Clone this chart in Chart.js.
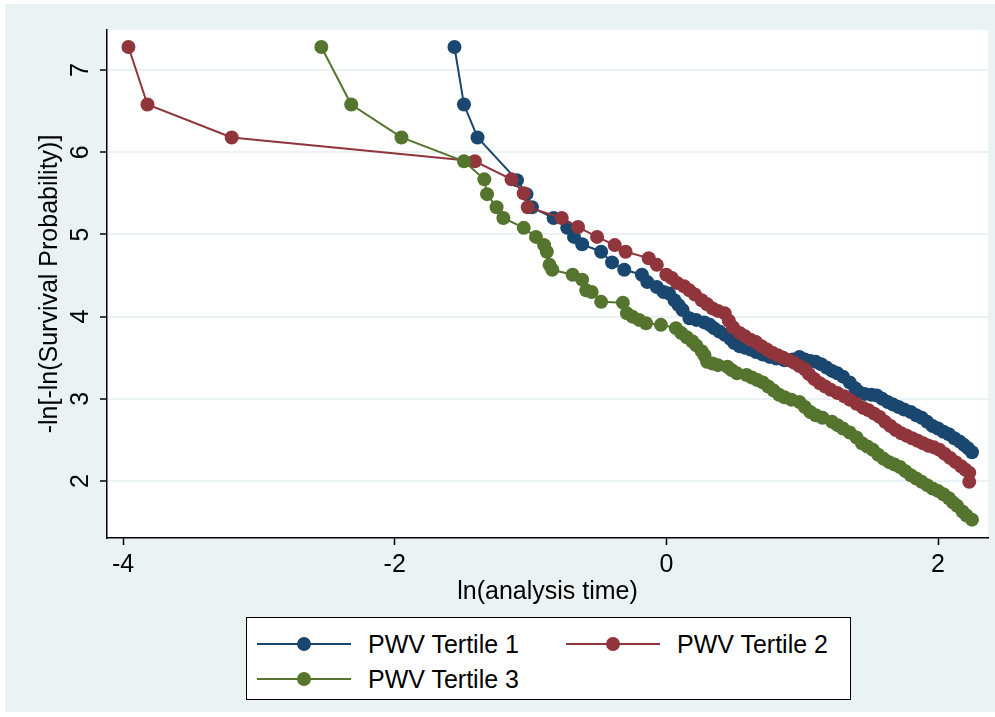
<!DOCTYPE html>
<html>
<head>
<meta charset="utf-8">
<title>Log-log survival by PWV tertile</title>
<script src="https://cdn.jsdelivr.net/npm/chart.js@4.4.1/dist/chart.umd.min.js"></script>
<style>
  html, body { margin: 0; padding: 0; background: #fff; }
  #wrap { position: relative; width: 995px; height: 717px; }
  #myChart { position: absolute; left: 0; top: 0; }
  #legend {
    position: absolute; left: 246px; top: 617px; width: 603px; height: 81px;
    border: 1px solid #000; background: #fff;
    font-family: "Liberation Sans", Arial, sans-serif; font-size: 25px; color: #000;
  }
  .item { position: absolute; height: 30px; width: 280px; }
  .sym { position: absolute; left: 0; top: 14px; width: 94px; height: 2px; }
  .dot { position: absolute; left: 40px; top: 8px; width: 14px; height: 14px; border-radius: 50%; }
  .lbl { position: absolute; left: 111px; top: 0; line-height: 30px; white-space: nowrap; }
</style>
</head>
<body>
<div id="wrap">
  <canvas id="myChart" width="995" height="717"></canvas>
  <div id="legend"></div>
</div>
<script>
var FONT = '"Liberation Sans", Arial, sans-serif';

var xTicks = [-4, -2, 0, 2];
var yTicks = [2, 3, 4, 5, 6, 7];
var seriesNames = ['PWV Tertile 1', 'PWV Tertile 2', 'PWV Tertile 3'];
var seriesColors = ['#1A476F', '#90353B', '#55752F'];

// [ln(analysis time), -ln(-ln(S))]
var tertile1 = [
  [-1.56,7.28],[-1.49,6.58],[-1.39,6.18],[-1.10,5.66],[-1.03,5.49],[-0.99,5.33],[-0.83,5.20],
  [-0.73,5.08],[-0.68,4.97],[-0.62,4.88],[-0.48,4.79],[-0.40,4.66],[-0.31,4.57],[-0.18,4.51],
  [-0.14,4.42],[-0.07,4.36],[-0.02,4.30],[0.02,4.28],[0.06,4.20],[0.09,4.14],[0.12,4.08],
  [0.17,3.98],[0.22,3.96],[0.28,3.93],[0.32,3.90],[0.35,3.86],[0.39,3.82],[0.43,3.78],
  [0.47,3.73],[0.50,3.68],[0.54,3.64],[0.58,3.62],[0.62,3.60],[0.66,3.57],[0.71,3.54],
  [0.76,3.51],[0.81,3.49],[0.87,3.47],[0.93,3.48],[0.98,3.51],[1.02,3.48],[1.06,3.46],
  [1.10,3.45],[1.14,3.42],[1.18,3.38],[1.22,3.34],[1.26,3.31],[1.30,3.27],[1.35,3.20],
  [1.39,3.13],[1.42,3.08],[1.46,3.06],[1.51,3.05],[1.55,3.04],[1.59,3.00],[1.63,2.96],
  [1.67,2.93],[1.71,2.90],[1.75,2.87],[1.80,2.84],[1.84,2.80],[1.88,2.77],[1.92,2.72],
  [1.96,2.67],[2.00,2.64],[2.04,2.60],[2.08,2.57],[2.12,2.52],[2.16,2.48],[2.19,2.44],
  [2.22,2.40],[2.25,2.35]
];
var tertile2 = [
  [-3.96,7.28],[-3.82,6.58],[-3.20,6.18],[-1.41,5.89],[-1.14,5.67],[-1.05,5.50],[-1.02,5.33],
  [-0.77,5.20],[-0.65,5.09],[-0.51,4.97],[-0.38,4.87],[-0.30,4.79],[-0.13,4.71],[-0.07,4.63],
  [0.00,4.51],[0.04,4.47],[0.08,4.41],[0.13,4.37],[0.17,4.32],[0.21,4.27],[0.26,4.20],
  [0.30,4.15],[0.34,4.10],[0.38,4.07],[0.43,4.04],[0.46,3.95],[0.49,3.87],[0.54,3.80],
  [0.58,3.76],[0.62,3.72],[0.66,3.69],[0.70,3.64],[0.74,3.60],[0.78,3.56],[0.82,3.53],
  [0.86,3.50],[0.90,3.47],[0.94,3.44],[0.98,3.40],[1.02,3.36],[1.05,3.30],[1.09,3.24],
  [1.13,3.19],[1.17,3.15],[1.21,3.11],[1.26,3.07],[1.31,3.03],[1.35,2.99],[1.40,2.94],
  [1.45,2.89],[1.49,2.86],[1.53,2.82],[1.57,2.78],[1.61,2.72],[1.65,2.67],[1.69,2.62],
  [1.73,2.58],[1.77,2.55],[1.81,2.52],[1.85,2.49],[1.89,2.46],[1.93,2.43],[1.97,2.41],
  [2.01,2.38],[2.05,2.33],[2.09,2.28],[2.13,2.23],[2.17,2.18],[2.20,2.14],[2.23,2.10],
  [2.23,1.99]
];
var tertile3 = [
  [-2.54,7.28],[-2.32,6.58],[-1.95,6.18],[-1.49,5.89],[-1.34,5.67],[-1.32,5.49],[-1.25,5.33],
  [-1.20,5.20],[-1.05,5.08],[-0.96,4.97],[-0.90,4.87],[-0.88,4.79],[-0.86,4.63],[-0.84,4.57],
  [-0.69,4.51],[-0.62,4.45],[-0.59,4.32],[-0.55,4.30],[-0.48,4.18],[-0.32,4.17],[-0.29,4.04],
  [-0.25,4.00],[-0.20,3.96],[-0.15,3.92],[-0.04,3.90],[0.07,3.86],[0.11,3.80],[0.15,3.75],
  [0.19,3.70],[0.22,3.65],[0.26,3.58],[0.28,3.53],[0.30,3.45],[0.34,3.43],[0.38,3.41],
  [0.45,3.39],[0.48,3.35],[0.52,3.31],[0.59,3.29],[0.63,3.26],[0.67,3.23],[0.71,3.20],
  [0.75,3.15],[0.79,3.10],[0.83,3.05],[0.87,3.02],[0.92,2.99],[0.98,2.96],[1.02,2.90],
  [1.06,2.84],[1.10,2.80],[1.15,2.77],[1.22,2.72],[1.26,2.68],[1.30,2.64],[1.35,2.59],
  [1.40,2.53],[1.44,2.46],[1.48,2.42],[1.52,2.38],[1.56,2.32],[1.60,2.27],[1.64,2.23],
  [1.68,2.20],[1.72,2.17],[1.76,2.12],[1.80,2.07],[1.84,2.03],[1.88,1.99],[1.92,1.95],
  [1.96,1.91],[2.00,1.88],[2.04,1.84],[2.08,1.79],[2.11,1.74],[2.14,1.70],[2.18,1.63],
  [2.21,1.58],[2.25,1.53]
];

function toPoints(arr) {
  return arr.map(function (p) { return { x: p[0], y: p[1] }; });
}

function makeSet(i, arr) {
  return {
    label: seriesNames[i],
    data: toPoints(arr),
    showLine: true,
    borderColor: seriesColors[i],
    backgroundColor: seriesColors[i],
    borderWidth: 2,
    pointRadius: 7,
    pointBorderWidth: 0,
    pointBackgroundColor: seriesColors[i],
    order: 3 - i   // tertile 3 ends up on top
  };
}

// graph region + white plot region
var backdrop = {
  id: 'backdrop',
  beforeDraw: function (chart) {
    var c = chart.ctx, a = chart.chartArea;
    c.save();
    c.fillStyle = '#ffffff';
    c.fillRect(0, 0, chart.width, chart.height);
    c.fillStyle = '#EAF2F3';
    c.fillRect(5, 4, 990, 708);
    c.fillStyle = '#ffffff';
    c.fillRect(a.left, a.top, a.right - a.left, a.bottom - a.top);
    c.restore();
  }
};

var ctx = document.getElementById('myChart');

var myChart = new Chart(ctx, {
  type: 'scatter',
  data: {
    datasets: [makeSet(0, tertile1), makeSet(1, tertile2), makeSet(2, tertile3)]
  },
  options: {
    responsive: false,
    animation: false,
    events: [],
    layout: { padding: { left: 5, top: 30, right: 7, bottom: 107 } },
    plugins: {
      legend: { display: false },
      tooltip: { enabled: false }
    },
    scales: {
      x: {
        type: 'linear',
        min: -4.118,
        max: 2.368,
        afterBuildTicks: function (axis) { axis.ticks = xTicks.map(function (v) { return { value: v }; }); },
        afterFit: function (axis) { axis.height = 72; },
        grid: { drawOnChartArea: false, drawTicks: true, tickLength: 7, tickColor: '#000', tickWidth: 1.5 },
        border: { display: true, color: '#000', width: 1.5 },
        ticks: { color: '#000', font: { family: FONT, size: 25 }, padding: 5, minRotation: 0, maxRotation: 0 },
        title: {
          display: true, text: 'ln(analysis time)', color: '#000',
          font: { family: FONT, size: 25 }, padding: { top: 0, bottom: 3 }
        }
      },
      y: {
        type: 'linear',
        min: 1.307,
        max: 7.487,
        afterBuildTicks: function (axis) { axis.ticks = yTicks.map(function (v) { return { value: v }; }); },
        afterFit: function (axis) { axis.width = 102; },
        grid: { color: '#EAF2F3', lineWidth: 2, drawTicks: true, tickLength: 7, tickColor: '#000', tickWidth: 1.5 },
        border: { display: true, color: '#000', width: 1.5 },
        ticks: { color: '#000', font: { family: FONT, size: 25 }, padding: 12, minRotation: 90, maxRotation: 90, crossAlign: 'center' },
        title: {
          display: true, text: '-ln[-ln(Survival Probability)]', color: '#000',
          font: { family: FONT, size: 25 }, padding: { top: 30, bottom: 0 }
        }
      }
    }
  },
  plugins: [backdrop]
});

// legend box: two columns, three keys
var legendPos = [[10, 11], [319, 11], [10, 46]];
var legend = document.getElementById('legend');
seriesNames.forEach(function (name, i) {
  var item = document.createElement('div');
  item.className = 'item';
  item.style.left = legendPos[i][0] + 'px';
  item.style.top = legendPos[i][1] + 'px';
  item.innerHTML = '<div class="sym" style="background:' + seriesColors[i] + '"></div>' +
    '<div class="dot" style="background:' + seriesColors[i] + '"></div>' +
    '<div class="lbl">' + name + '</div>';
  legend.appendChild(item);
});
</script>
</body>
</html>
